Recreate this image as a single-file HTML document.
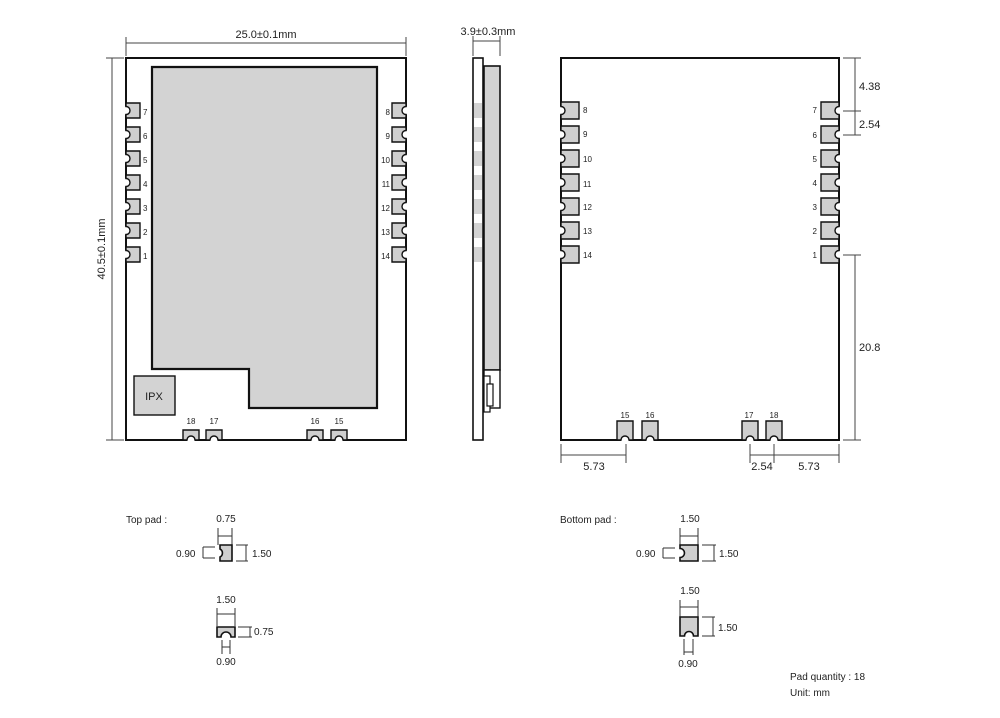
<!DOCTYPE html>
<html><head><meta charset="utf-8"><style>
html,body{margin:0;padding:0;background:#fff}
svg{display:block}
text{font-family:"Liberation Sans",sans-serif;fill:#222}
</style></head><body>
<svg width="1000" height="718" viewBox="0 0 1000 718" xmlns="http://www.w3.org/2000/svg">
<defs>
<g id="pl"><path d="M-1.5,3.5 A4,4 0 0 1 -1.5,11.5 Z M0,3.5 A4,4 0 0 1 0,11.5 Z" fill="#fff"/><path d="M0,0 H14 V15 H0 V11.5 A4,4 0 0 0 0,3.5 Z" fill="#cfcfcf" stroke="#111" stroke-width="1.4"/></g>
<g id="pr"><path d="M15.5,3.5 A4,4 0 0 0 15.5,11.5 Z M14,3.5 A4,4 0 0 0 14,11.5 Z" fill="#fff"/><path d="M0,0 H14 V3.5 A4,4 0 0 0 14,11.5 V15 H0 Z" fill="#cfcfcf" stroke="#111" stroke-width="1.4"/></g>
<g id="pb"><path d="M4,11.5 A4,4 0 0 1 12,11.5 Z M4,10 A4,4 0 0 1 12,10 Z" fill="#fff"/><path d="M0,0 H16 V10 H12 A4,4 0 0 0 4,10 H0 Z" fill="#cfcfcf" stroke="#111" stroke-width="1.4"/></g>
<g id="bl"><path d="M-1.5,4.5 A4,4 0 0 1 -1.5,12.5 Z M0,4.5 A4,4 0 0 1 0,12.5 Z" fill="#fff"/><path d="M0,0 H18 V17 H0 V12.5 A4,4 0 0 0 0,4.5 Z" fill="#cfcfcf" stroke="#111" stroke-width="1.4"/></g>
<g id="br"><path d="M19.5,4.5 A4,4 0 0 0 19.5,12.5 Z M18,4.5 A4,4 0 0 0 18,12.5 Z" fill="#fff"/><path d="M0,0 H18 V4.5 A4,4 0 0 0 18,12.5 V17 H0 Z" fill="#cfcfcf" stroke="#111" stroke-width="1.4"/></g>
<g id="bb"><path d="M4,20.5 A4,4 0 0 1 12,20.5 Z M4,19 A4,4 0 0 1 12,19 Z" fill="#fff"/><path d="M0,0 H16 V19 H12 A4,4 0 0 0 4,19 H0 Z" fill="#cfcfcf" stroke="#111" stroke-width="1.4"/></g>
</defs>
<g stroke="#444" stroke-width="1" fill="none">
<line x1="126" y1="43" x2="406" y2="43"/><line x1="126" y1="37" x2="126" y2="56"/><line x1="406" y1="37" x2="406" y2="56"/>
<line x1="112" y1="58" x2="112" y2="440"/><line x1="106" y1="58" x2="124" y2="58"/><line x1="106" y1="440" x2="124" y2="440"/>
<line x1="473" y1="41" x2="500" y2="41"/><line x1="473" y1="36" x2="473" y2="56"/><line x1="500" y1="36" x2="500" y2="56"/>
<line x1="855" y1="58" x2="855" y2="135"/><line x1="843" y1="58" x2="861" y2="58"/><line x1="843" y1="111" x2="861" y2="111"/><line x1="843" y1="135" x2="861" y2="135"/>
<line x1="855" y1="255" x2="855" y2="440"/><line x1="843" y1="255" x2="861" y2="255"/><line x1="843" y1="440" x2="861" y2="440"/>
<line x1="561" y1="455" x2="626" y2="455"/><line x1="561" y1="444" x2="561" y2="463"/><line x1="626" y1="444" x2="626" y2="463"/>
<line x1="750" y1="455" x2="839" y2="455"/><line x1="750" y1="444" x2="750" y2="463"/><line x1="774" y1="444" x2="774" y2="463"/><line x1="839" y1="444" x2="839" y2="463"/>
</g>
<text x="266" y="38" font-size="11" text-anchor="middle">25.0±0.1mm</text>
<text transform="translate(105,249) rotate(-90)" font-size="11" text-anchor="middle">40.5±0.1mm</text>
<text x="488" y="35" font-size="11" text-anchor="middle">3.9±0.3mm</text>
<text x="859" y="90" font-size="11">4.38</text>
<text x="859" y="128" font-size="11">2.54</text>
<text x="859" y="351" font-size="11">20.8</text>
<text x="594" y="470" font-size="11" text-anchor="middle">5.73</text>
<text x="762" y="470" font-size="11" text-anchor="middle">2.54</text>
<text x="809" y="470" font-size="11" text-anchor="middle">5.73</text>

<rect x="126" y="58" width="280" height="382" fill="#fff" stroke="#111" stroke-width="2"/>
<path d="M152,67 H377 V408 H249 V369 H152 Z" fill="#d3d3d3" stroke="#111" stroke-width="2.2"/>
<rect x="134" y="376" width="41" height="39" fill="#d3d3d3" stroke="#111" stroke-width="1.4"/>
<text x="154" y="400" font-size="11" text-anchor="middle">IPX</text>
<g>
<use href="#pl" x="126" y="103"/><use href="#pl" x="126" y="127"/><use href="#pl" x="126" y="151"/><use href="#pl" x="126" y="175"/><use href="#pl" x="126" y="199"/><use href="#pl" x="126" y="223"/><use href="#pl" x="126" y="247"/>
<use href="#pr" x="392" y="103"/><use href="#pr" x="392" y="127"/><use href="#pr" x="392" y="151"/><use href="#pr" x="392" y="175"/><use href="#pr" x="392" y="199"/><use href="#pr" x="392" y="223"/><use href="#pr" x="392" y="247"/>
<use href="#pb" x="183" y="430"/><use href="#pb" x="206" y="430"/><use href="#pb" x="307" y="430"/><use href="#pb" x="331" y="430"/>
</g>
<g font-size="8">
<text x="143" y="115">7</text><text x="143" y="139">6</text><text x="143" y="163">5</text><text x="143" y="187">4</text><text x="143" y="211">3</text><text x="143" y="235">2</text><text x="143" y="259">1</text>
<g text-anchor="end"><text x="390" y="115">8</text><text x="390" y="139">9</text><text x="390" y="163">10</text><text x="390" y="187">11</text><text x="390" y="211">12</text><text x="390" y="235">13</text><text x="390" y="259">14</text></g>
<g text-anchor="middle"><text x="191" y="424">18</text><text x="214" y="424">17</text><text x="315" y="424">16</text><text x="339" y="424">15</text></g>
</g>

<rect x="473" y="58" width="10" height="382" fill="#fff" stroke="#111" stroke-width="1.6"/>
<rect x="484" y="66" width="16" height="304" fill="#d3d3d3" stroke="#111" stroke-width="1.6"/>
<g fill="#d3d3d3"><rect x="474" y="103" width="8" height="15"/><rect x="474" y="127" width="8" height="15"/><rect x="474" y="151" width="8" height="15"/><rect x="474" y="175" width="8" height="15"/><rect x="474" y="199" width="8" height="15"/><rect x="474" y="223" width="8" height="15"/><rect x="474" y="247" width="8" height="15"/></g>
<rect x="484" y="370" width="16" height="38" fill="#fff" stroke="#111" stroke-width="1.4"/>
<rect x="484" y="376" width="6" height="36" fill="#fff" stroke="#111" stroke-width="1.2"/>
<rect x="487" y="384" width="6" height="22" fill="#fff" stroke="#111" stroke-width="1.2"/>

<rect x="561" y="58" width="278" height="382" fill="#fff" stroke="#111" stroke-width="2"/>
<use href="#bl" x="561" y="102"/><use href="#bl" x="561" y="126"/><use href="#bl" x="561" y="150"/><use href="#bl" x="561" y="174"/><use href="#bl" x="561" y="198"/><use href="#bl" x="561" y="222"/><use href="#bl" x="561" y="246"/>
<use href="#br" x="821" y="102"/><use href="#br" x="821" y="126"/><use href="#br" x="821" y="150"/><use href="#br" x="821" y="174"/><use href="#br" x="821" y="198"/><use href="#br" x="821" y="222"/><use href="#br" x="821" y="246"/>
<use href="#bb" x="617" y="421"/><use href="#bb" x="642" y="421"/><use href="#bb" x="742" y="421"/><use href="#bb" x="766" y="421"/>
<g font-size="8">
<text x="583" y="113">8</text><text x="583" y="137">9</text><text x="583" y="162">10</text><text x="583" y="187">11</text><text x="583" y="210">12</text><text x="583" y="234">13</text><text x="583" y="258">14</text>
<g text-anchor="end"><text x="817" y="113">7</text><text x="817" y="138">6</text><text x="817" y="162">5</text><text x="817" y="186">4</text><text x="817" y="210">3</text><text x="817" y="234">2</text><text x="817" y="258">1</text></g>
<g text-anchor="middle"><text x="625" y="418">15</text><text x="650" y="418">16</text><text x="749" y="418">17</text><text x="774" y="418">18</text></g>
</g>

<g font-size="10">
<text x="126" y="523">Top pad :</text>
<text x="226" y="522" text-anchor="middle">0.75</text>
<text x="176" y="557">0.90</text>
<text x="252" y="557">1.50</text>
<text x="226" y="603" text-anchor="middle">1.50</text>
<text x="254" y="635">0.75</text>
<text x="226" y="665" text-anchor="middle">0.90</text>
<text x="560" y="523">Bottom pad :</text>
<text x="690" y="522" text-anchor="middle">1.50</text>
<text x="636" y="557">0.90</text>
<text x="719" y="557">1.50</text>
<text x="690" y="594" text-anchor="middle">1.50</text>
<text x="718" y="631">1.50</text>
<text x="688" y="667" text-anchor="middle">0.90</text>
<text x="790" y="680">Pad quantity : 18</text>
<text x="790" y="696">Unit:  mm</text>
</g>
<g stroke="#333" stroke-width="1" fill="none">
<line x1="218" y1="528" x2="218" y2="545"/><line x1="232" y1="528" x2="232" y2="545"/><line x1="218" y1="536" x2="232" y2="536"/>
<line x1="203" y1="547" x2="203" y2="558"/><line x1="203" y1="547" x2="215" y2="547"/><line x1="203" y1="558" x2="215" y2="558"/>
<line x1="246" y1="545" x2="246" y2="561"/><line x1="236" y1="545" x2="248" y2="545"/><line x1="236" y1="561" x2="248" y2="561"/>
<line x1="217" y1="608" x2="217" y2="626"/><line x1="235" y1="608" x2="235" y2="626"/><line x1="217" y1="614" x2="235" y2="614"/>
<line x1="250" y1="627" x2="250" y2="637"/><line x1="238" y1="627" x2="252" y2="627"/><line x1="238" y1="637" x2="252" y2="637"/>
<line x1="222" y1="640" x2="222" y2="654"/><line x1="230" y1="640" x2="230" y2="654"/><line x1="222" y1="647" x2="230" y2="647"/>
<line x1="680" y1="528" x2="680" y2="545"/><line x1="698" y1="528" x2="698" y2="545"/><line x1="680" y1="536" x2="698" y2="536"/>
<line x1="663" y1="548" x2="663" y2="558"/><line x1="663" y1="548" x2="675" y2="548"/><line x1="663" y1="558" x2="675" y2="558"/>
<line x1="714" y1="545" x2="714" y2="561"/><line x1="702" y1="545" x2="716" y2="545"/><line x1="702" y1="561" x2="716" y2="561"/>
<line x1="680" y1="600" x2="680" y2="617"/><line x1="698" y1="600" x2="698" y2="617"/><line x1="680" y1="607" x2="698" y2="607"/>
<line x1="713" y1="617" x2="713" y2="636"/><line x1="702" y1="617" x2="715" y2="617"/><line x1="702" y1="636" x2="715" y2="636"/>
<line x1="684" y1="639" x2="684" y2="655"/><line x1="693" y1="639" x2="693" y2="655"/><line x1="684" y1="652" x2="693" y2="652"/>
</g>
<path d="M220,545 H232 V561 H220 V557 A4.5,4.5 0 0 0 220,549 Z" fill="#cfcfcf" stroke="#111" stroke-width="1.6"/>
<path d="M217,627 H235 V637 H231 A5,5 0 0 0 221,637 H217 Z" fill="#cfcfcf" stroke="#111" stroke-width="1.6"/>
<path d="M680,545 H698 V561 H680 V557.5 A4.5,4.5 0 0 0 680,548.5 Z" fill="#cfcfcf" stroke="#111" stroke-width="1.6"/>
<path d="M680,617 H698 V636 H693.5 A4.5,4.5 0 0 0 684.5,636 H680 Z" fill="#cfcfcf" stroke="#111" stroke-width="1.6"/>
</svg>
</body></html>
